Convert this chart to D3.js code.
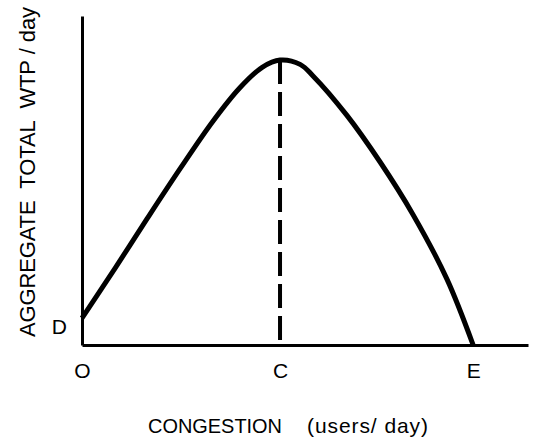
<!DOCTYPE html>
<html><head><meta charset="utf-8">
<script src="https://cdn.jsdelivr.net/npm/d3@7"></script>
<style>
body{margin:0;background:#fff;}
text{font-family:"Liberation Sans",Arial,Helvetica,sans-serif;fill:#000;}
</style></head>
<body><svg id="c" width="536" height="440"></svg>
<script>
// data (arbitrary units)
const curveX = [0, 0.74, 1.46, 2.20, 2.94, 3.54, 4.04, 4.44, 4.89, 5.18, 5.94, 6.68, 7.42, 8.18, 8.77];
const curveY = [0.82, 2.33, 3.84, 5.36, 6.81, 7.82, 8.44, 8.66, 8.53, 8.18, 6.98, 5.57, 3.97, 2.01, 0];
const xTickValues = [0, 4.44, 8.77];
const xTickLabels = ["O", "C", "E"];
const yTickValues = [0.82];
const yTickLabels = ["D"];
const peakX = 4.44, peakY = 8.66;
const xTitle1 = "CONGESTION";
const xTitle2 = "(users/ day)";
const yTitle = "AGGREGATE\u00a0\u00a0TOTAL\u00a0\u00a0WTP\u00a0/\u00a0day";

const svg = d3.select("#c");
const x = d3.scaleLinear().domain([0, 10]).range([82, 528]);
const y = d3.scaleLinear().domain([0, 10]).range([345, 16]);

// curve
const pts = curveX.map((v, i) => [v, curveY[i]]);
svg.append("path").datum(pts)
  .attr("fill", "none").attr("stroke", "#000").attr("stroke-width", 5)
  .attr("stroke-linejoin", "round")
  .attr("d", d3.line().x(d => x(d[0])).y(d => y(d[1])).curve(d3.curveCatmullRom.alpha(0.5)));

// dashed line
svg.append("line")
  .attr("x1", x(peakX)).attr("x2", x(peakX))
  .attr("y1", y(peakY)).attr("y2", y(0))
  .attr("stroke", "#000").attr("stroke-width", 4)
  .attr("stroke-dasharray", "24,8");

// axes
const xa = svg.append("g").attr("transform", `translate(0,${y(0)})`)
  .call(d3.axisBottom(x).tickValues(xTickValues).tickFormat((d, i) => xTickLabels[i]).tickSize(0).tickPadding(18));
xa.select(".domain").attr("stroke-width", 3);
xa.selectAll("text").attr("font-size", 21).attr("font-family", "Liberation Sans, Arial, sans-serif");

const ya = svg.append("g").attr("transform", `translate(${x(0)},0)`)
  .call(d3.axisLeft(y).tickValues(yTickValues).tickFormat((d, i) => yTickLabels[i]).tickSize(0).tickPadding(15));
ya.select(".domain").attr("stroke-width", 3);
ya.selectAll("text").attr("font-size", 21).attr("font-family", "Liberation Sans, Arial, sans-serif").attr("dy", "0.76em");

// titles
svg.append("text").attr("x", 148).attr("y", 433).attr("font-size", 21)
  .attr("textLength", 134).attr("lengthAdjust", "spacingAndGlyphs").text(xTitle1);
svg.append("text").attr("x", 307).attr("y", 433).attr("font-size", 21)
  .attr("textLength", 121).attr("lengthAdjust", "spacing").text(xTitle2);
svg.append("text").attr("transform", "translate(35,337) rotate(-90)")
  .attr("font-size", 22).attr("textLength", 330).attr("lengthAdjust", "spacing").text(yTitle);
</script></body></html>
